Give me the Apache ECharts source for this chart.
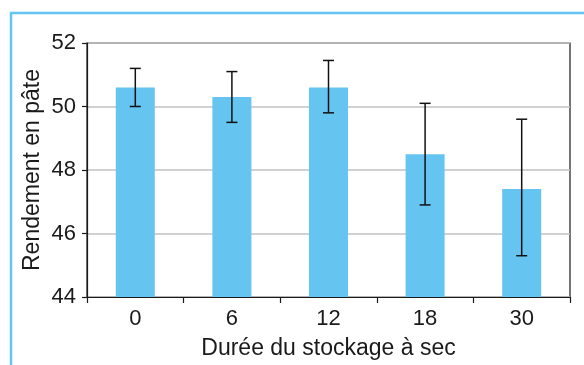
<!DOCTYPE html>
<html>
<head>
<meta charset="utf-8">
<script src="https://cdn.jsdelivr.net/npm/echarts@6/dist/echarts.min.js"></script>
<style>html,body{margin:0;padding:0;background:#fff;}#c{width:584px;height:365px;}</style>
</head>
<body>
<div id="c"></div>
<script>
var categories = ['0', '6', '12', '18', '30'];
var values = [50.6, 50.3, 50.6, 48.5, 47.4];
var errLow = [50.0, 49.5, 49.8, 46.9, 45.3];
var errHigh = [51.2, 51.1, 51.45, 50.1, 49.6];
var yTicks = [44, 46, 48, 50, 52];

var FONT = '"Liberation Sans", Arial, Helvetica, sans-serif';
var chart = echarts.init(document.getElementById('c'), null, {renderer: 'canvas'});
var errData = categories.map(function (c, i) { return [i, errLow[i], errHigh[i]]; });

chart.setOption({
  animation: false,
  backgroundColor: '#fff',
  graphic: [{
    type: 'rect', silent: true, z: 0,
    shape: {x: 11, y: 13, width: 620, height: 400},
    style: {fill: 'none', stroke: '#66c4f0', lineWidth: 2.5}
  }],
  grid: {left: 87, right: 14, top: 43, bottom: 65, show: true, borderColor: '#1a1a1a', borderWidth: 1.2, backgroundColor: 'transparent'},
  xAxis: {
    type: 'category', data: categories,
    name: 'Durée du stockage à sec', nameLocation: 'middle', nameGap: 40,
    nameMoveOverlap: false,
    nameTextStyle: {fontFamily: FONT, fontSize: 23, color: '#1a1a1a'},
    axisLine: {lineStyle: {color: '#1a1a1a', width: 1.2}},
    axisTick: {show: true, length: 6, lineStyle: {color: '#1a1a1a', width: 1.2}},
    axisLabel: {fontFamily: FONT, fontSize: 22, color: '#1a1a1a', margin: 11},
    splitLine: {show: false}
  },
  yAxis: {
    type: 'value', min: yTicks[0], max: yTicks[yTicks.length - 1], interval: 2,
    name: 'Rendement en pâte', nameLocation: 'middle', nameGap: 43,
    nameMoveOverlap: false,
    nameTextStyle: {fontFamily: FONT, fontSize: 23, color: '#1a1a1a'},
    axisLine: {show: true, lineStyle: {color: '#1a1a1a', width: 1.2}},
    axisTick: {show: true, length: 5, lineStyle: {color: '#1a1a1a', width: 1.2}},
    axisLabel: {fontFamily: FONT, fontSize: 22, color: '#1a1a1a', margin: 11},
    splitLine: {show: true, lineStyle: {color: '#c2c2c2', width: 1.6}}
  },
  series: [{
    type: 'bar', data: values, barWidth: 39,
    itemStyle: {color: '#66c4f0'}, z: 2
  }, {
    type: 'custom', data: errData, z: 3,
    renderItem: function (params, api) {
      var x = api.value(0);
      var lo = api.coord([x, api.value(1)]);
      var hi = api.coord([x, api.value(2)]);
      var hw = 5.5;
      var st = {stroke: '#111', lineWidth: 1.5};
      return {type: 'group', children: [
        {type: 'line', shape: {x1: lo[0], y1: lo[1], x2: hi[0], y2: hi[1]}, style: st},
        {type: 'line', shape: {x1: lo[0] - hw, y1: lo[1], x2: lo[0] + hw, y2: lo[1]}, style: st},
        {type: 'line', shape: {x1: hi[0] - hw, y1: hi[1], x2: hi[0] + hw, y2: hi[1]}, style: st}
      ]};
    }
  }]
});
</script>
</body>
</html>
